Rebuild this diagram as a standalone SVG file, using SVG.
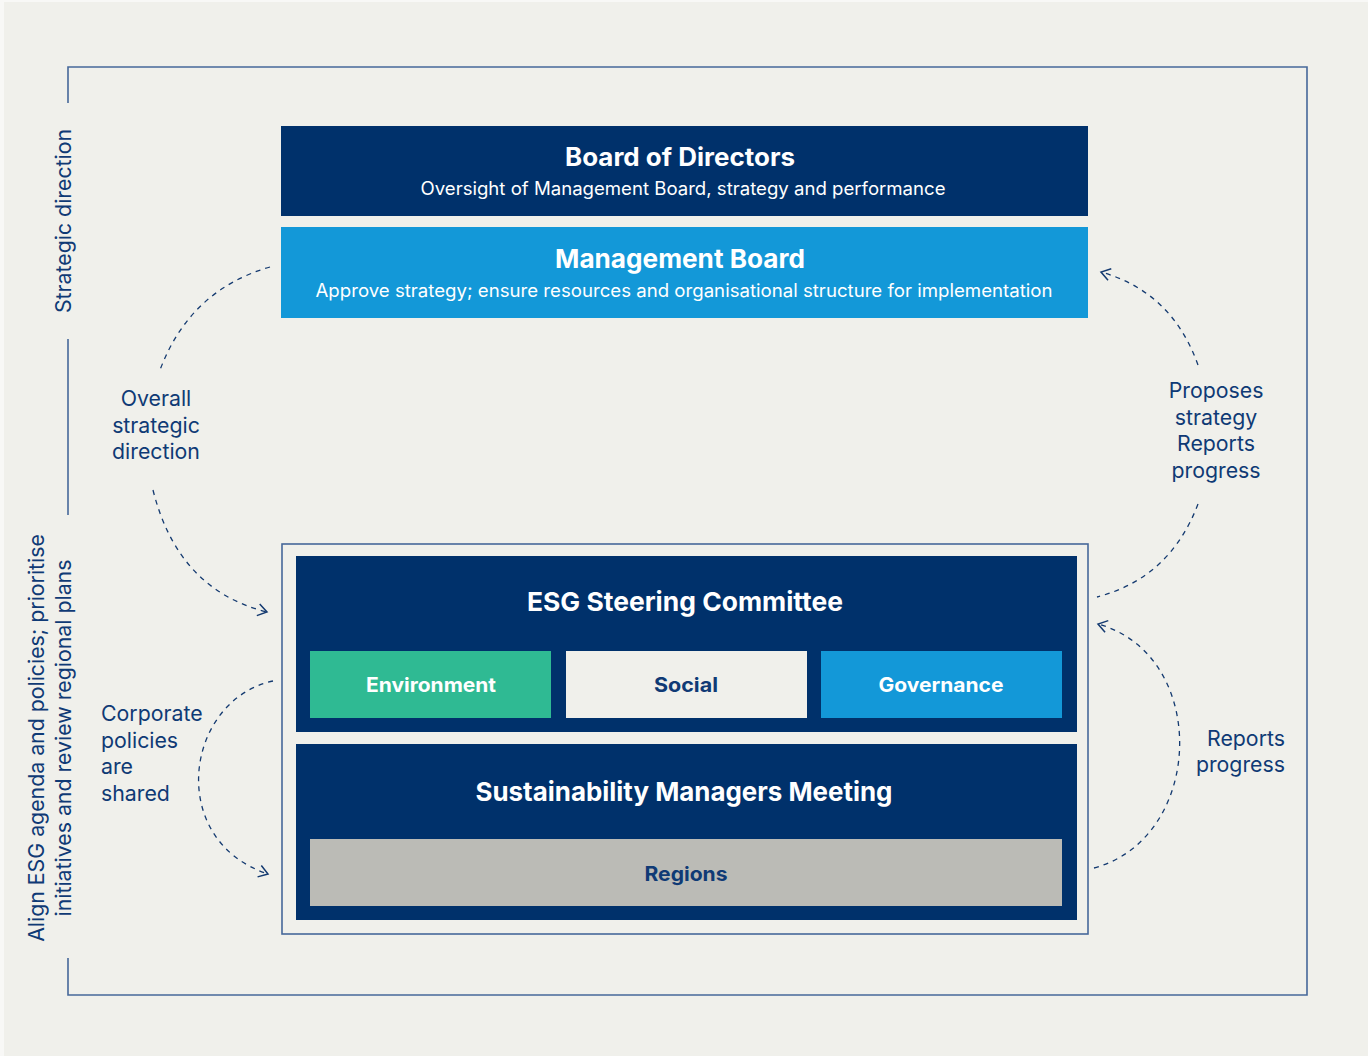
<svg xmlns="http://www.w3.org/2000/svg" width="1368" height="1056" viewBox="0 0 1368 1056">
<style>
.bg{fill:#f0f0eb}
.navy{fill:#00316b}
.blue{fill:#1398d8}
.green{fill:#2fba93}
.light{fill:#f0f0eb}
.grey{fill:#bbbbb6}
.frame{fill:none;stroke:#46689a;stroke-width:1.6}
.dash{fill:none;stroke:#143a70;stroke-width:1.3;stroke-dasharray:5 5}
text{font-family:Inter,"Noto Sans","Liberation Sans",sans-serif}
.w{fill:#ffffff}
.d{fill:#0f3a75}
.t{font-weight:700;text-anchor:middle}
.s{font-size:18px;text-anchor:middle}
.lbl{font-size:21.3px;fill:#0f3a75}
</style>
<defs>
<marker id="chev" markerWidth="16" markerHeight="16" refX="10" refY="7" orient="auto" markerUnits="userSpaceOnUse">
<path d="M1,1 L10,7 L1,13" fill="none" stroke="#143a70" stroke-width="1.5"/>
</marker>
</defs>
<rect fill="#f8f8f6" x="0" y="0" width="1368" height="1056"/>
<rect class="bg" x="4" y="2" width="1364" height="1054"/>
<g id="frame">
<path class="frame" d="M68,103 V67 H1307 V995 H68 V958"/>
<path class="frame" d="M68,339 V515"/>
<text class="lbl" transform="translate(71,221) rotate(-90)" text-anchor="middle">Strategic direction</text>
<text class="lbl" transform="translate(44,738) rotate(-90)" text-anchor="middle">Align ESG agenda and policies; prioritise</text>
<text class="lbl" transform="translate(71,738) rotate(-90)" text-anchor="middle">initiatives and review regional plans</text>
</g>
<g id="board">
<rect class="navy" x="281" y="126" width="807" height="90"/>
<text class="w t" x="680" y="166" font-size="25" textLength="230" lengthAdjust="spacingAndGlyphs">Board of Directors</text>
<text class="w s" x="683" y="195" textLength="525" lengthAdjust="spacingAndGlyphs">Oversight of Management Board, strategy and performance</text>
</g>
<g id="management">
<rect class="blue" x="281" y="227" width="807" height="91"/>
<text class="w t" x="680" y="268" font-size="26" textLength="250" lengthAdjust="spacingAndGlyphs">Management Board</text>
<text class="w s" x="684" y="297" textLength="737" lengthAdjust="spacingAndGlyphs">Approve strategy; ensure resources and organisational structure for implementation</text>
</g>
<g id="esg-group">
<rect x="282" y="544" width="806" height="390" fill="#f0f0eb" stroke="#46689a" stroke-width="1.6"/>
</g>
<g id="steering">
<rect class="navy" x="296" y="556" width="781" height="176"/>
<text class="w t" x="685" y="611" font-size="26" textLength="316" lengthAdjust="spacingAndGlyphs">ESG Steering Committee</text>
</g>
<g id="environment">
<rect class="green" x="310" y="651" width="241" height="67"/>
<text class="w t" x="431" y="692" font-size="20" textLength="130" lengthAdjust="spacingAndGlyphs">Environment</text>
</g>
<g id="social">
<rect class="light" x="566" y="651" width="241" height="67"/>
<text class="d t" x="686" y="692" font-size="20" textLength="64" lengthAdjust="spacingAndGlyphs">Social</text>
</g>
<g id="governance">
<rect class="blue" x="821" y="651" width="241" height="67"/>
<text class="w t" x="941" y="692" font-size="20" textLength="125" lengthAdjust="spacingAndGlyphs">Governance</text>
</g>
<g id="managers">
<rect class="navy" x="296" y="744" width="781" height="176"/>
<text class="w t" x="684" y="801" font-size="26" textLength="417" lengthAdjust="spacingAndGlyphs">Sustainability Managers Meeting</text>
</g>
<g id="regions">
<rect class="grey" x="310" y="839" width="752" height="67"/>
<text class="d t" x="686" y="881" font-size="20" textLength="83" lengthAdjust="spacingAndGlyphs">Regions</text>
</g>
<g id="connectors">
<path class="dash" d="M270,267 Q190,290 160,370"/>
<path class="dash" d="M153,490 Q178,590 267,612" marker-end="url(#chev)"/>
<path class="dash" d="M273,681 C185,700 165,840 268,874" marker-end="url(#chev)"/>
<path class="dash" d="M1198,365 Q1172,292 1101,272" marker-end="url(#chev)"/>
<path class="dash" d="M1198,504 Q1170,578 1097,597"/>
<path class="dash" d="M1094,868 C1205,838 1210,655 1098,624" marker-end="url(#chev)"/>
</g>
<g id="labels">
<text class="lbl" text-anchor="middle"><tspan x="156" y="406">Overall</tspan><tspan x="156" y="433">strategic</tspan><tspan x="156" y="459">direction</tspan></text>
<text class="lbl" text-anchor="middle"><tspan x="1216" y="398">Proposes</tspan><tspan x="1216" y="425">strategy</tspan><tspan x="1216" y="451">Reports</tspan><tspan x="1216" y="478">progress</tspan></text>
<text class="lbl"><tspan x="101" y="721">Corporate</tspan><tspan x="101" y="748">policies</tspan><tspan x="101" y="774">are</tspan><tspan x="101" y="801">shared</tspan></text>
<text class="lbl" text-anchor="end"><tspan x="1285" y="746">Reports</tspan><tspan x="1285" y="772">progress</tspan></text>
</g>
</svg>
